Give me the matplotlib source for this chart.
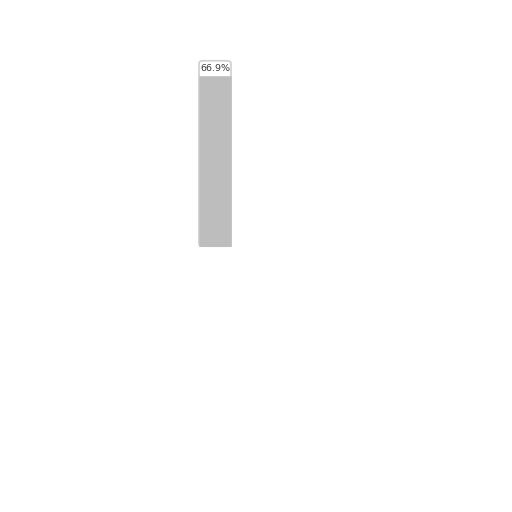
import matplotlib
matplotlib.use('Agg')
import matplotlib.pyplot as plt
from matplotlib.patches import FancyBboxPatch

# data
labels = ['A']
values = [66.9]
track_max = 73.2

fig = plt.figure(figsize=(5.12, 5.12), dpi=100)
ax = fig.add_axes([198 / 512, 1 - 247 / 512, 34 / 512, 187 / 512])
ax.set_xlim(-0.5, 0.5)
ax.set_ylim(0, track_max)
ax.axis('off')

# фон с закруглёнными углами
track = FancyBboxPatch((-0.47, 0.3), 0.94, track_max - 0.6,
                       boxstyle='round,pad=0,rounding_size=0.12',
                       mutation_aspect=9,
                       facecolor='white', edgecolor='#cfcfcf', linewidth=1.2,
                       clip_on=False)
ax.add_patch(track)

ax.bar(range(len(values)), values, width=0.92, color='#bdbdbd',
       edgecolor='#c4c4c4', linewidth=0.5)

for i, v in enumerate(values):
    ax.text(i, v + 1.2, f'{v}%', ha='center', va='bottom', fontsize=6.8,
            color='#3a3a3a')

fig.savefig('out.png', dpi=100)
